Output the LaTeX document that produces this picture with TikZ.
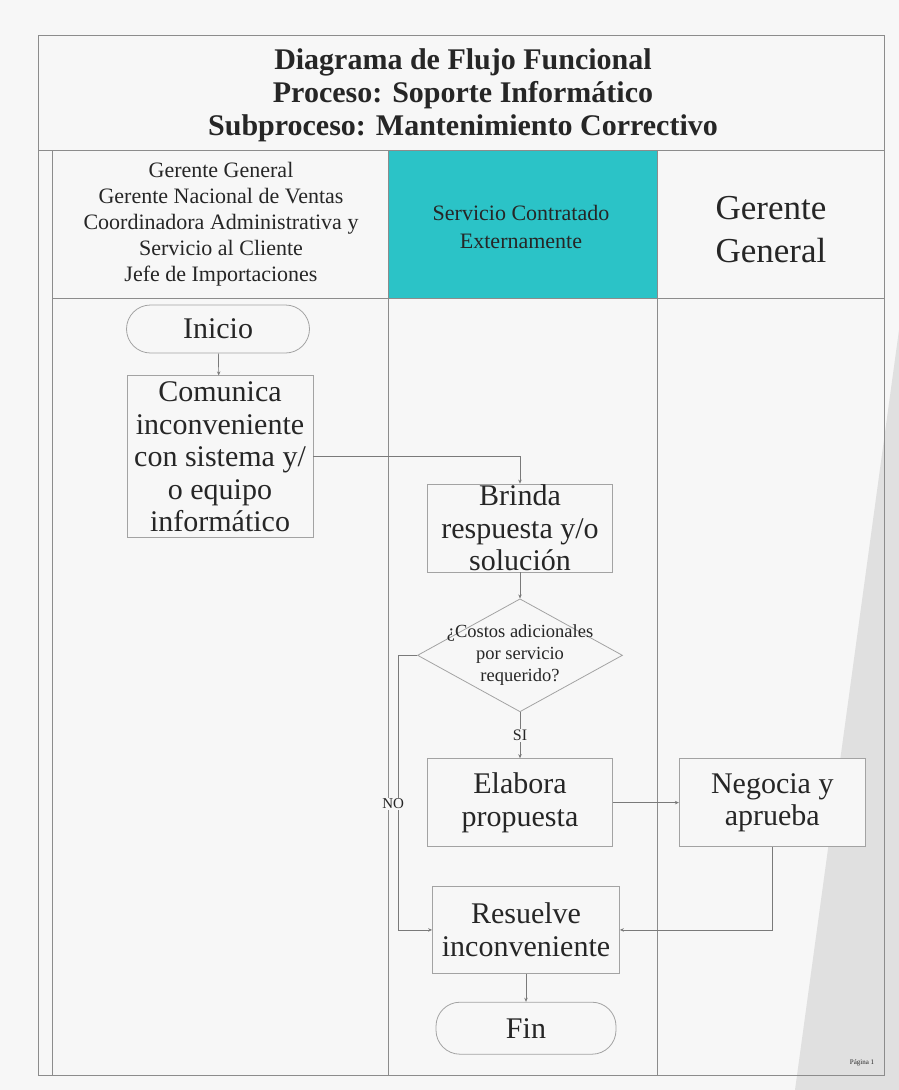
\documentclass[tikz,border=0pt]{standalone}
\usepackage{fontspec}
\setmainfont{Liberation Serif}
\usetikzlibrary{arrows.meta,positioning,shapes.geometric}
\definecolor{ink}{HTML}{262626}
\definecolor{frame}{HTML}{8C8C8C}
\definecolor{edge}{HTML}{A3A3A3}
\definecolor{wire}{HTML}{7A7A7A}
\definecolor{paper}{HTML}{F7F7F7}
\definecolor{wedge}{HTML}{E0E0E0}
\definecolor{tealhead}{HTML}{2BC3C7}
\newcommand{\fsz}[2]{\fontsize{#1}{#2}\selectfont}
\tikzset{
  >={Stealth[length=4pt,width=3.5pt]},
  every node/.style={text=ink},
  lane/.style={draw=frame,line width=1pt},
  lanehead/.style={align=center,inner sep=0pt},
  task/.style={draw=edge,fill=paper,line width=0.8pt,align=center,inner xsep=2pt,inner ysep=2pt,font=\fsz{30}{32.5}},
  terminal/.style={task,rounded corners=24pt},
  decision/.style={diamond,draw=edge,fill=paper,line width=0.8pt,inner sep=0pt,minimum width=205pt,minimum height=113pt},
  arrow/.style={->,draw=wire,line width=0.7pt},
  tag/.style={fill=paper,inner sep=1pt}
}
\begin{document}
\begin{tikzpicture}[x=1pt,y=-1pt,node distance=22pt and 66pt]
  \fill[paper] (0,0) rectangle (899,1090);
  \useasboundingbox (0,0) rectangle (899,1090);
  \fill[wedge] (899,330) -- (899,1090) -- (795,1090) -- cycle;
  % marco y carriles
  \fill[tealhead] (388,150) rectangle (657,298);
  \draw[lane] (38,35) rectangle (884,1075);
  \draw[lane] (38,150) -- (884,150);
  \draw[lane] (52,150) -- (52,1075);
  \draw[lane] (52,298) -- (884,298);
  \draw[lane] (388,150) -- (388,1075);
  \draw[lane] (657,150) -- (657,1075);

  \node[lanehead,font=\bfseries\fsz{30}{33}] (title) at (463,95) {Diagrama de Flujo Funcional\\Proceso: Soporte Informático\\Subproceso: Mantenimiento Correctivo};
  \node[lanehead,font=\fsz{22}{26}] (usuarios) at (221,224) {Gerente General\\Gerente Nacional de Ventas\\Coordinadora Administrativa y\\Servicio al Cliente\\Jefe de Importaciones};
  \node[lanehead,font=\fsz{22}{28}] (servicio) at (521,227) {Servicio Contratado\\Externamente};
  \node[lanehead,font=\fsz{35}{43}] (gerente) at (771,230) {Gerente\\General};

  % flujo
  \node[terminal,minimum width=183pt,minimum height=48pt] (inicio) at (218,329) {Inicio};
  \node[task,minimum width=186pt,minimum height=162pt,below=of inicio,xshift=2pt] (comunica) {Comunica\\inconveniente\\con sistema y/\\o equipo\\informático};
  \node[task,minimum width=185pt,minimum height=88pt,inner ysep=-3pt] (brinda) at (520,528) {Brinda\\respuesta y/o\\solución};
  \node[decision,below=26pt of brinda,label={[font=\fsz{18.5}{22},align=center]center:{¿Costos adicionales\\por servicio\\requerido?}}] (costos) {};
  \node[task,minimum width=185pt,minimum height=88pt,below=46pt of costos] (elabora) {Elabora\\propuesta};
  \node[task,minimum width=186pt,minimum height=88pt,right=of elabora] (negocia) {Negocia y\\aprueba};
  \node[task,minimum width=187pt,minimum height=87pt,below=39pt of elabora,xshift=6pt] (resuelve) {Resuelve\\inconveniente};
  \node[terminal,minimum width=180pt,minimum height=52pt,below=28pt of resuelve] (fin) {Fin};

  \draw[arrow] (inicio) -- (comunica);
  \draw[arrow] (comunica.east) -| (brinda.north);
  \draw[arrow] (brinda) -- (costos);
  \draw[arrow] (costos) -- node[tag,font=\fsz{16}{18}] (si) {SI} (elabora);
  \draw[arrow] (costos.west) -- ++(-19,0) |- node[tag,font=\fsz{15}{17},pos=0.27,xshift=-5pt] (no) {NO} (resuelve.west);
  \draw[arrow] (elabora) -- (negocia);
  \draw[arrow] (negocia.south) |- (resuelve.east);
  \draw[arrow] (resuelve) -- (fin);

  \node[font=\fsz{7}{8},inner sep=0pt] (pagina) at (862,1063) {Página 1};
\end{tikzpicture}
\end{document}
